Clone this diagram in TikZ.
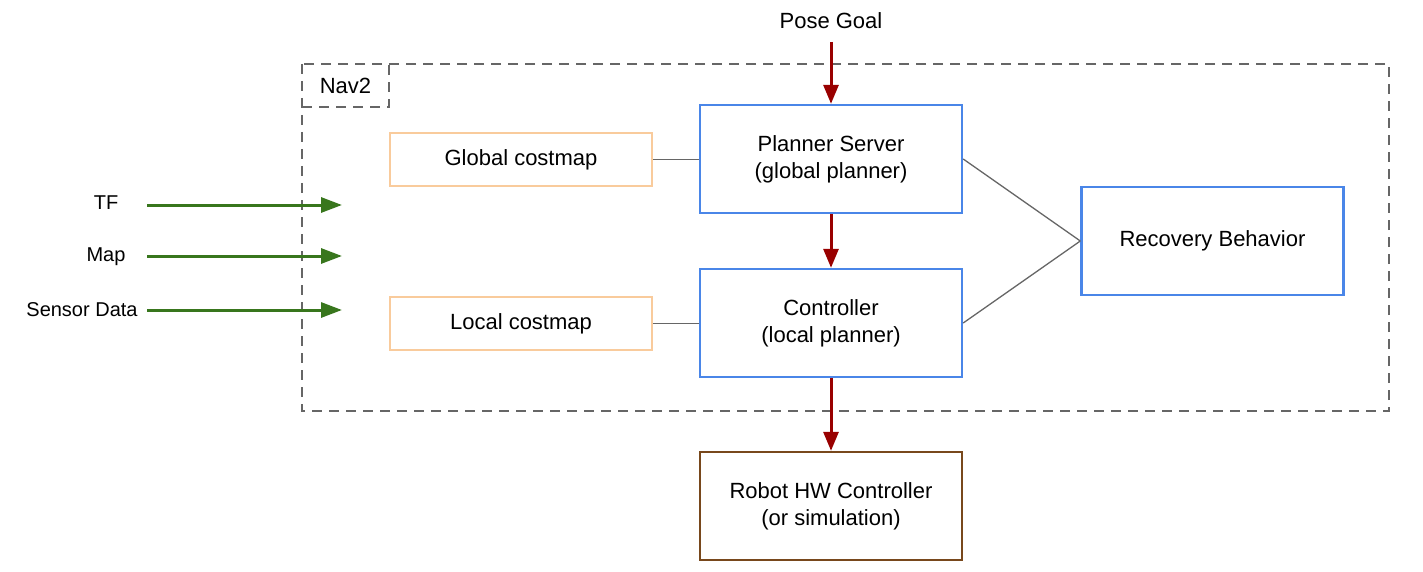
\documentclass[tikz,border=0pt]{standalone}
\usepackage{fontspec}
\setmainfont{Liberation Sans}
\usetikzlibrary{arrows.meta}
\definecolor{boxblue}{HTML}{4A86E8}
\definecolor{boxorange}{HTML}{F9CB9C}
\definecolor{boxbrown}{RGB}{120,72,28}
\definecolor{arrred}{HTML}{990000}
\definecolor{arrgreen}{HTML}{38761D}
\definecolor{linegray}{HTML}{666666}
\tikzset{
  bluebox/.style={draw=boxblue, line width=2.4pt, minimum width=262pt, minimum height=108pt, align=center, font=\fontsize{22}{27}\selectfont, inner sep=0pt},
  orangebox/.style={draw=boxorange, line width=2.4pt, minimum width=262pt, minimum height=53pt, align=center, font=\fontsize{22}{27}\selectfont, inner sep=0pt},
  brownbox/.style={draw=boxbrown, line width=2.4pt, minimum width=262pt, minimum height=108pt, align=center, font=\fontsize{22}{27}\selectfont, inner sep=0pt},
  redarrow/.style={draw=arrred, line width=3pt, -{Triangle[length=19pt,width=15pt]}},
  greenarrow/.style={draw=arrgreen, line width=3pt, -{Triangle[length=21pt,width=15pt]}},
  grayline/.style={draw=linegray, line width=1.3pt},
  dashframe/.style={draw=linegray, line width=2.4pt, dash pattern=on 10pt off 7pt},
  sidelabel/.style={font=\fontsize{20}{24}\selectfont, inner sep=0pt},
  biglabel/.style={font=\fontsize{22}{27}\selectfont, inner sep=0pt}
}
\begin{document}
\begin{tikzpicture}[x=1pt,y=-1pt]
\useasboundingbox (0,0) rectangle (1423,572);
% Nav2 frame
\draw[dashframe] (302,64) rectangle (1389,411);
\draw[dashframe] (302,107) -- (389,107) -- (389,64);
\node[biglabel] (nav) at (345.5,86) {Nav2};
% boxes
\node[orangebox] (gc) at (521,159.5) {Global costmap};
\node[orangebox] (lc) at (521,323.5) {Local costmap};
\node[bluebox] (ps) at (831,159) {Planner Server\\(global planner)};
\node[bluebox] (ct) at (831,323) {Controller\\(local planner)};
\node[bluebox] (rb) at (1212.5,241) {Recovery Behavior};
\node[brownbox] (hw) at (831,506) {Robot HW Controller\\(or simulation)};
% pose goal
\node[biglabel] (pg) at (831,21) {Pose Goal};
\coordinate (pgs) at (831,42);
\draw[redarrow] (pgs) -- (ps.north);
\draw[redarrow] (ps.south) -- (ct.north);
\draw[redarrow] (ct.south) -- (hw.north);
% gray lines
\draw[grayline] (gc.east) -- (ps.west |- gc.east);
\draw[grayline] (lc.east) -- (ct.west |- lc.east);
\draw[grayline] (ps.east) -- (rb.west);
\draw[grayline] (ct.east) -- (rb.west);
% inputs
\node[sidelabel] (tf) at (106,203) {TF};
\node[sidelabel] (map) at (106,257) {Map};
\node[sidelabel] (sd) at (82,310) {Sensor Data};
\coordinate (tfa) at (147,205);
\coordinate (tfb) at (342,205);
\coordinate (mapa) at (147,256);
\coordinate (mapb) at (342,256);
\coordinate (sda) at (147,310);
\coordinate (sdb) at (342,310);
\draw[greenarrow] (tfa) -- (tfb);
\draw[greenarrow] (mapa) -- (mapb);
\draw[greenarrow] (sda) -- (sdb);
\end{tikzpicture}
\end{document}
